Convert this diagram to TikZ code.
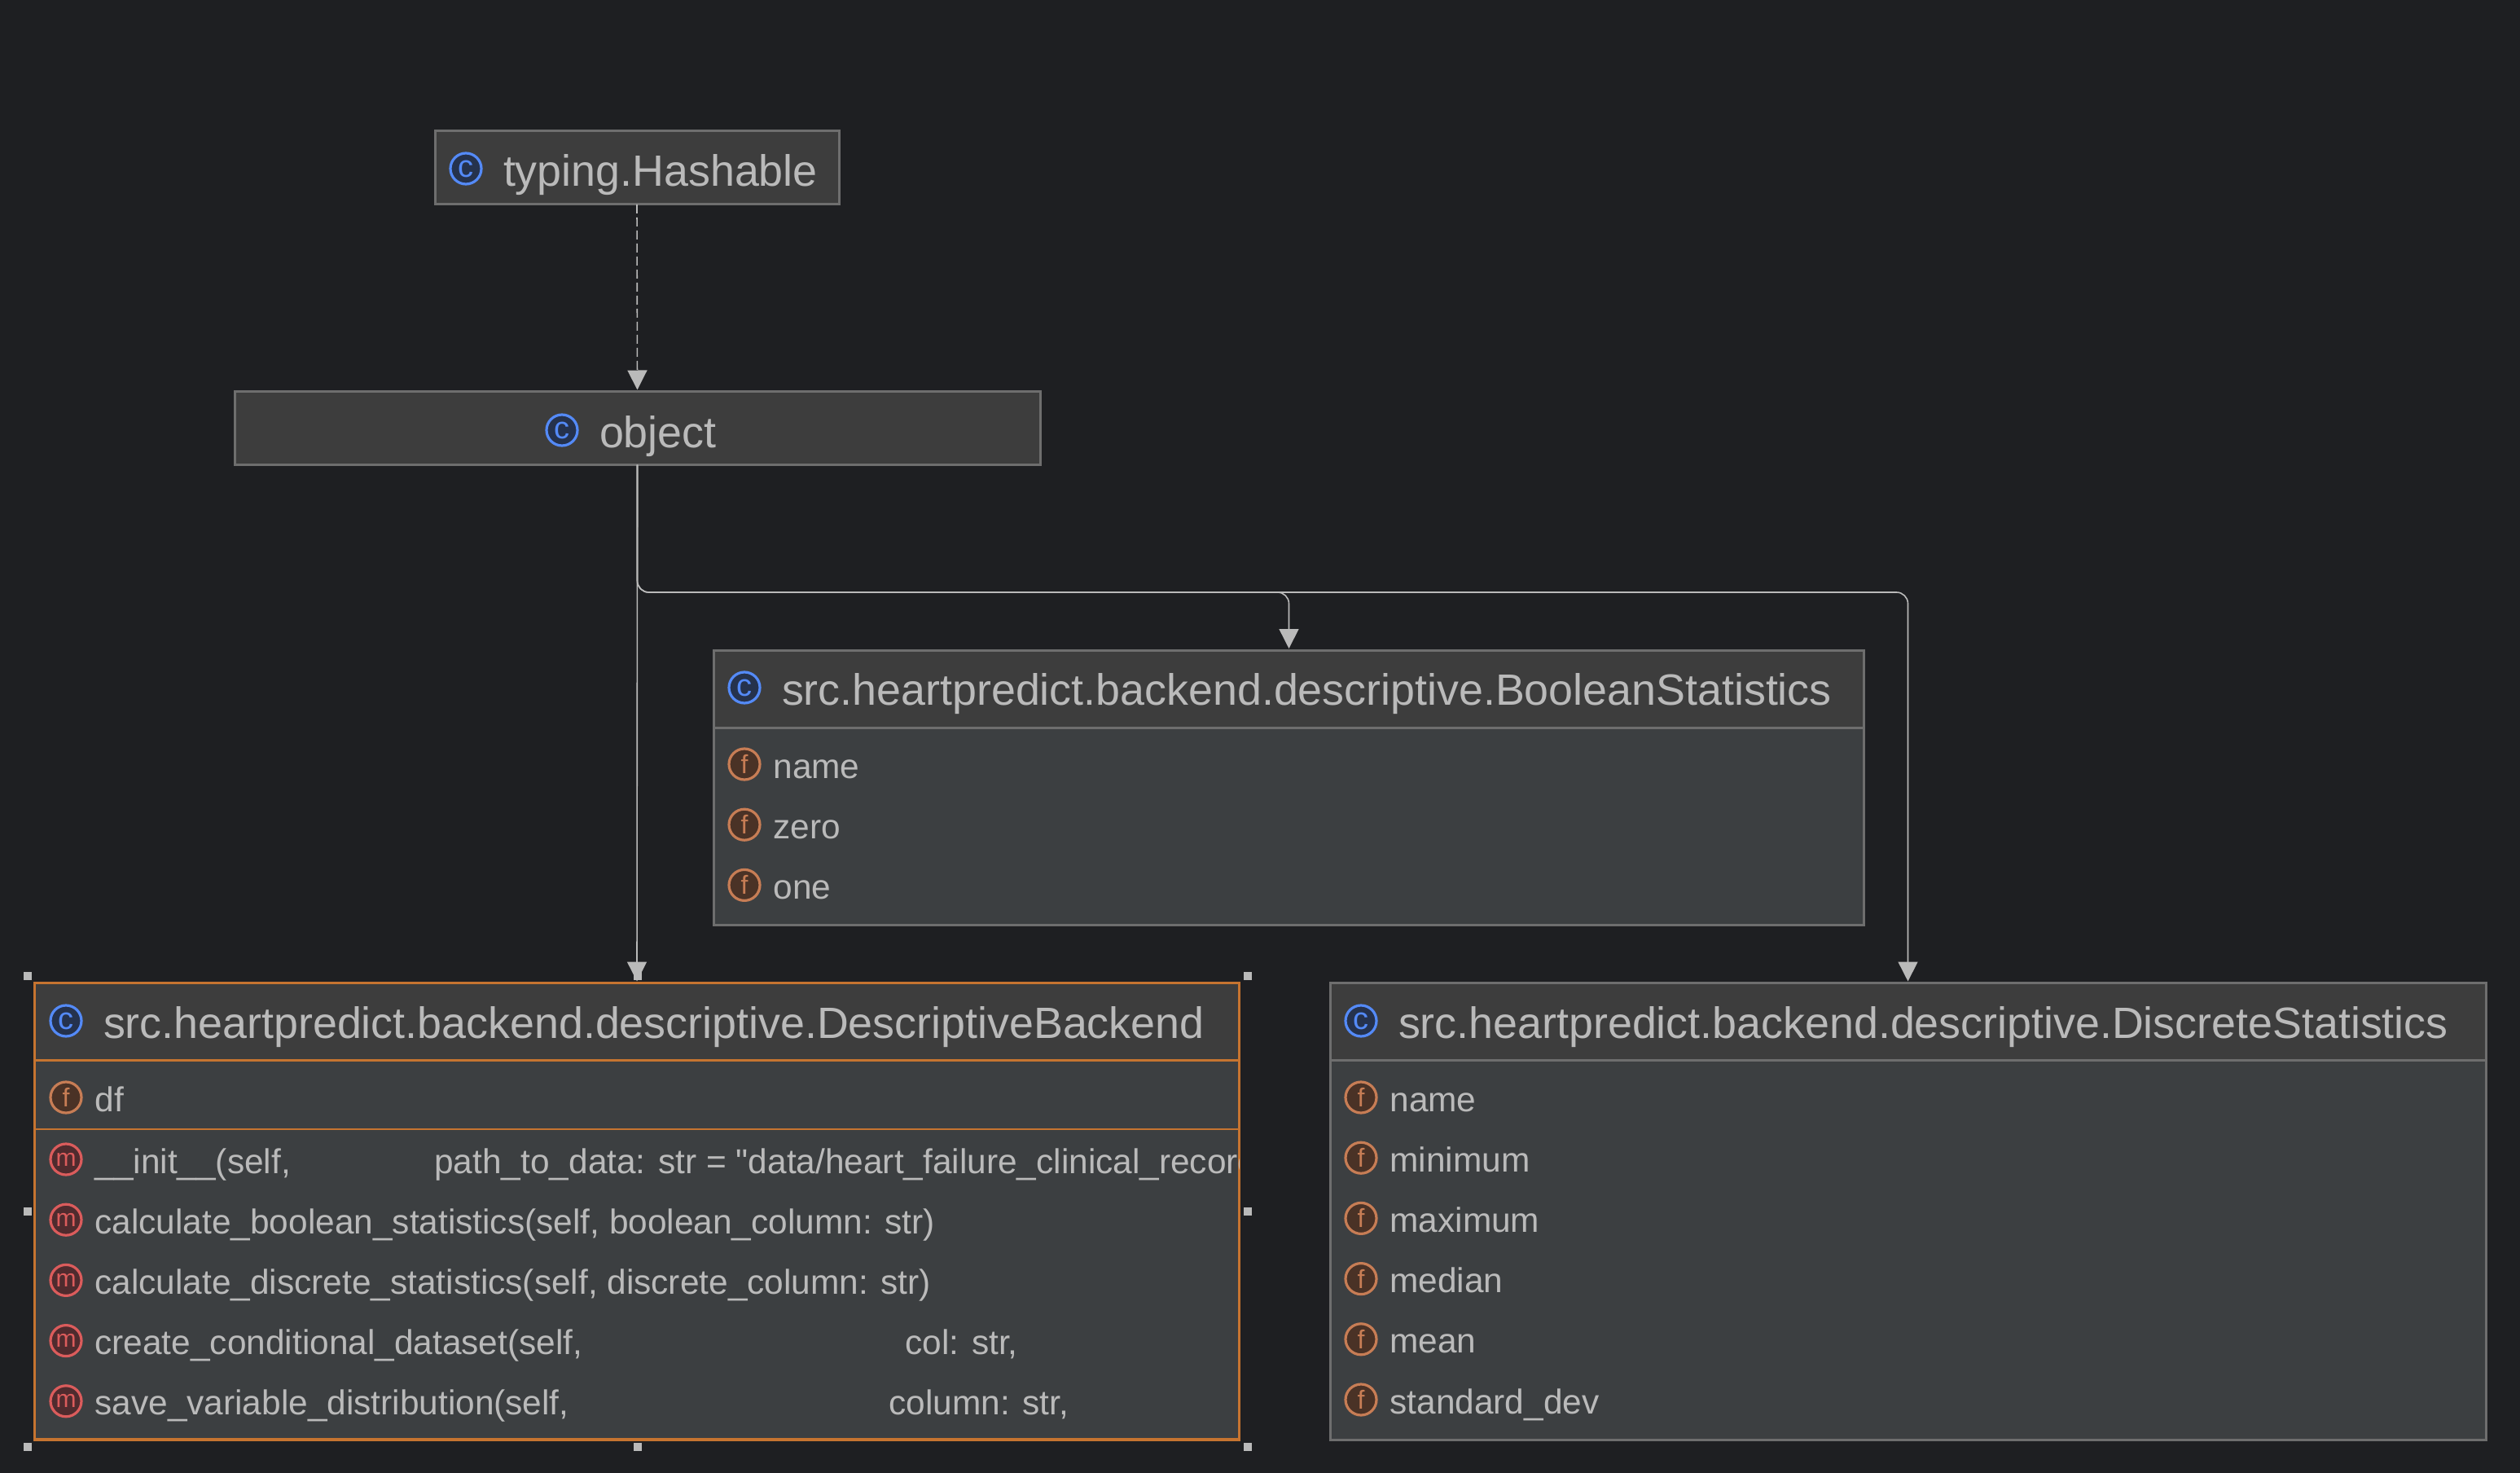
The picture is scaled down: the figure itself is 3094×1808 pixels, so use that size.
\documentclass[tikz,border=0pt]{standalone}
\usepackage{fontspec}
\newfontfamily\umlfont{Liberation Sans}
\usetikzlibrary{positioning,arrows.meta,calc}
\definecolor{umlback}{HTML}{1E1F22}
\definecolor{umlhead}{HTML}{3D3D3D}
\definecolor{umlbody}{HTML}{3C3F41}
\definecolor{umledge}{HTML}{6E6E6E}
\definecolor{umlpick}{HTML}{C67430}
\definecolor{umlink}{HTML}{BABABA}
\definecolor{iconblue}{HTML}{548AF7}
\definecolor{iconbluefill}{HTML}{25324D}
\definecolor{iconorange}{HTML}{C77D55}
\definecolor{iconorangefill}{HTML}{4A3226}
\definecolor{iconred}{HTML}{DB5C5C}
\definecolor{iconredfill}{HTML}{4F2B2E}

\begin{document}
\begin{tikzpicture}[
    x=0.5pt, y=-0.5pt,
    >={Triangle[length=12pt,width=12pt]},
    headbox/.style={draw=umledge, fill=umlhead, line width=1.5pt, anchor=north west, inner sep=0pt, outer sep=0pt},
    bodybox/.style={draw=umledge, fill=umlbody, line width=1.5pt, anchor=north west, inner sep=0pt, outer sep=0pt},
    picked/.style={draw=umlpick, line width=1.8pt},
    iconbase/.style={circle, line width=1.6pt, minimum size=19pt, inner sep=0pt},
    classicon/.style={iconbase, draw=iconblue, fill=iconbluefill, text=iconblue, font=\umlfont\fontsize{19}{19}\selectfont},
    fieldicon/.style={iconbase, draw=iconorange, fill=iconorangefill, text=iconorange, font=\umlfont\fontsize{16}{16}\selectfont},
    methodicon/.style={iconbase, draw=iconred, fill=iconredfill, text=iconred, font=\umlfont\fontsize{15}{15}\selectfont},
    headlabel/.style={text=umlink, inner sep=0pt, text height=26pt, text depth=4.5pt, font=\umlfont\fontsize{26.9}{28}\selectfont},
    rowlabel/.style={text=umlink, inner sep=0pt, text height=22pt, text depth=5pt, font=\umlfont\fontsize{21.2}{25}\selectfont},
    handle/.style={fill=umlink, inner sep=0pt, minimum size=5pt},
    flow/.style={->, line width=0.8pt, draw=umlink, rounded corners=7pt, shorten >=1pt},
    flowdash/.style={flow, dash pattern=on 5.5pt off 2.5pt}
]
\useasboundingbox[fill=umlback] (0,0) rectangle (3094,1808);

% Two bases on top
\node[headbox, minimum width=248pt, minimum height=45pt] (hashable) at (534,161) {};
\node[classicon] (hashableicon) at (572,207) {c};
\node[headlabel, right=12.5pt of hashableicon] (hashablename) {typing.Hashable};

\node[headbox, minimum width=494.5pt, minimum height=45pt] (object) at (288,480.5) {};
\node[classicon] (objecticon) at (690,528) {c};
\node[headlabel, right=12.5pt of objecticon] (objectname) {object};

% BooleanStatistics
\node[bodybox, minimum width=706pt, minimum height=121.5pt] (boolbody) at (876.5,892) {};
\node[headbox, minimum width=706pt, minimum height=47.5pt] (boolhead) at (876.5,798) {};
\node[classicon] (boolicon) at (914,844) {c};
\node[headlabel, right=12.5pt of boolicon] (boolname) {src.heartpredict.backend.descriptive.BooleanStatistics};
\node[fieldicon] (boolf1) at (914,938) {f};
\node[fieldicon, below=16.5pt of boolf1] (boolf2) {f};
\node[fieldicon, below=16.5pt of boolf2] (boolf3) {f};
\node[rowlabel, right=7.25pt of boolf1] (boolname1) {name};
\node[rowlabel, right=7.25pt of boolf2] (boolname2) {zero};
\node[rowlabel, right=7.25pt of boolf3] (boolname3) {one};

% DescriptiveBackend, the selected one
\node[bodybox, picked, minimum width=739.5pt, minimum height=233pt] (backbody) at (42.5,1301) {};
\node[headbox, picked, minimum width=739.5pt, minimum height=47.5pt] (backhead) at (42.5,1206.5) {};
\draw[umlpick, line width=1pt] (backbody.west |- 0,1386) coordinate (backsplit) -- (backbody.east |- backsplit);
\node[classicon] (backicon) at (81,1253) {c};
\node[headlabel, right=12.5pt of backicon] (backname) {src.heartpredict.backend.descriptive.DescriptiveBackend};
\node[fieldicon] (backf1) at (81,1347) {f};
\node[rowlabel, right=7.25pt of backf1] (backfield) {df};
\node[methodicon] (backm1) at (81,1423) {m};
\node[methodicon, below=16.5pt of backm1] (backm2) {m};
\node[methodicon, below=16.5pt of backm2] (backm3) {m};
\node[methodicon, below=16.5pt of backm3] (backm4) {m};
\node[methodicon, below=16.5pt of backm4] (backm5) {m};
\node[rowlabel, right=7.25pt of backm1] (backinit) {\_\_init\_\_(self,};
\begin{scope}
\clip (backbody.north west) rectangle (backbody.south east);
\node[rowlabel, anchor=west] (backinitarg) at (533,0 |- backm1) {path\_to\_data: str = "data/heart\_failure\_clinical\_record};
\end{scope}
\node[rowlabel, right=7.25pt of backm2] (backcalcbool) {calculate\_boolean\_statistics(self, boolean\_column: str)};
\node[rowlabel, right=7.25pt of backm3] (backcalcdisc) {calculate\_discrete\_statistics(self, discrete\_column: str)};
\node[rowlabel, right=7.25pt of backm4] (backcond) {create\_conditional\_dataset(self,};
\node[rowlabel, anchor=west] (backcondarg) at (1111,0 |- backm4) {col: str,};
\node[rowlabel, right=7.25pt of backm5] (backsave) {save\_variable\_distribution(self,};
\node[rowlabel, anchor=west] (backsavearg) at (1091,0 |- backm5) {column: str,};

% DiscreteStatistics
\node[bodybox, minimum width=709.5pt, minimum height=233pt] (discbody) at (1633,1301) {};
\node[headbox, minimum width=709.5pt, minimum height=47.5pt] (dischead) at (1633,1206.5) {};
\node[classicon] (discicon) at (1671,1253) {c};
\node[headlabel, right=12.5pt of discicon] (discname) {src.heartpredict.backend.descriptive.DiscreteStatistics};
\node[fieldicon] (discf1) at (1671,1347) {f};
\node[fieldicon, below=16.5pt of discf1] (discf2) {f};
\node[fieldicon, below=16.5pt of discf2] (discf3) {f};
\node[fieldicon, below=16.5pt of discf3] (discf4) {f};
\node[fieldicon, below=16.5pt of discf4] (discf5) {f};
\node[fieldicon, below=16.5pt of discf5] (discf6) {f};
\node[rowlabel, right=7.25pt of discf1] (discname1) {name};
\node[rowlabel, right=7.25pt of discf2] (discname2) {minimum};
\node[rowlabel, right=7.25pt of discf3] (discname3) {maximum};
\node[rowlabel, right=7.25pt of discf4] (discname4) {median};
\node[rowlabel, right=7.25pt of discf5] (discname5) {mean};
\node[rowlabel, right=7.25pt of discf6] (discname6) {standard\_dev};

% Selection handles
\node[handle] (handlenw) at (34,1197.5) {};
\node[handle] (handlen) at (783,1197.5) {};
\node[handle] (handlene) at (1532,1197.5) {};
\node[handle] (handlew) at (34,1487) {};
\node[handle] (handlee) at (1532,1487) {};
\node[handle] (handlesw) at (34,1776) {};
\node[handle] (handles) at (783,1776) {};
\node[handle] (handlese) at (1532,1776) {};

% Connectors: one trunk below object, branches along one height
\coordinate (branch) at (783,727);
\draw[flowdash] (hashable.south) -- (object.north);
\draw[flow] (object.south) -- (backhead.north);
\draw[flow] (object.south) -- (object.south |- branch) -- (boolhead.north |- branch) -- (boolhead.north);
\draw[flow] (object.south) -- (object.south |- branch) -- (dischead.north |- branch) -- (dischead.north);
\end{tikzpicture}
\end{document}
